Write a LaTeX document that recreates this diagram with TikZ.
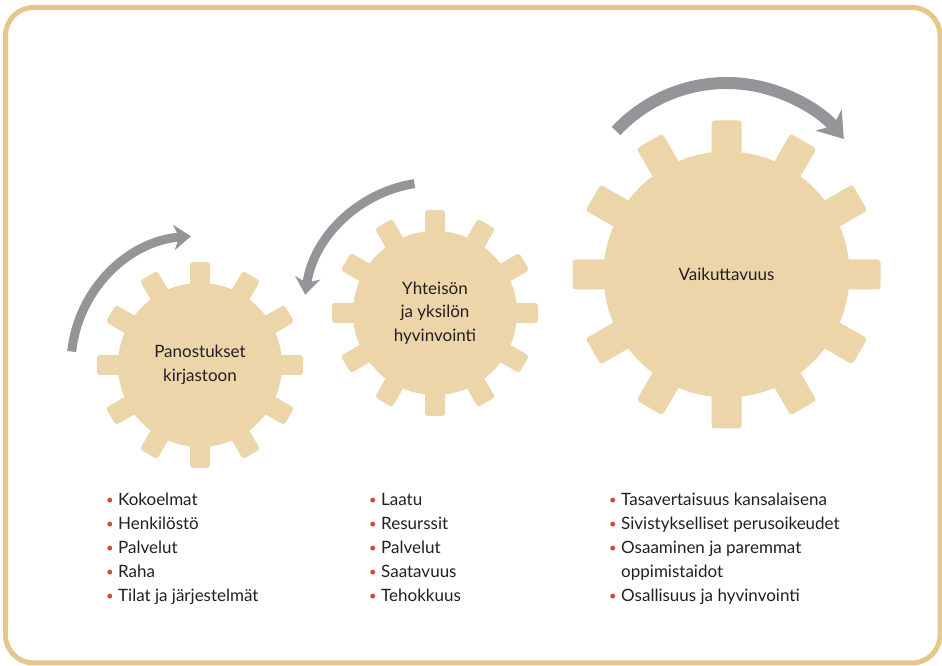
\documentclass[tikz,border=0pt]{standalone}
\usepackage{fontspec}
\setmainfont{Lato}
\usetikzlibrary{arrows.meta,backgrounds}
\definecolor{gearfill}{HTML}{EDD5AA}
\definecolor{framegold}{HTML}{E6C68A}
\definecolor{arrowgray}{HTML}{939598}
\definecolor{textdark}{HTML}{231F20}
\definecolor{bulred}{HTML}{D1463A}
\newcommand\redbul{\makebox[12pt][l]{\raisebox{1pt}{\color{bulred}\fontsize{13}{13}\selectfont\textbullet}}}
\def\gear(#1)(#2:#3:#4)% Syntax: (centre) (tip radius:body radius:tooth width)
    { \fill[gearbody] (#1) circle (#3);
      \foreach \t in {0,30,...,330}
        \fill[gearbody,rounded corners=3pt,shift={(#1)},rotate=\t] (#3-6,-#4/2) rectangle (#2,#4/2); }

\begin{document}
\begin{tikzpicture}[x=1pt,y=1pt,
    gearbody/.style={fill=gearfill},
    gearlabel/.style={align=center,text=textdark,font=\fontsize{17}{23.5}\selectfont},
    bullist/.style={anchor=base west,inner sep=0pt,text=textdark,font=\fontsize{17}{24}\selectfont},
    turn/.style={draw=arrowgray,line width=9pt,-{Stealth[length=17pt,width=25pt,inset=5pt]}},
    bigturn/.style={turn,line width=12pt,-{Stealth[length=24pt,width=33pt,inset=7pt]}}]
   \useasboundingbox (0,0) rectangle (942,666);
   \draw[framegold,line width=5pt,rounded corners=28pt] (5.5,3) rectangle (940,658.5);

   % gear labels
   \node[gearlabel] (panost) at (200,301) {Panostukset\\kirjastoon};
   \node[gearlabel] (yhteis) at (435,353) {Yhteisön\\ja yksilön\\hyvinvointi};
   \node[gearlabel] (vaikut) at (726.5,391.5) {Vaikuttavuus};
   \coordinate (vaikturn) at ([yshift=40.5pt]vaikut.center);

   \begin{scope}[on background layer]
     \gear(panost.center)(103:82:20)
     \gear(yhteis.center)(103:82:20)
     \gear(vaikut.center)(154:123:30)
   \end{scope}

   % turning arrows
   \draw[turn] ([shift={(174:129)}]panost.center) arc[start angle=174,end angle=94,radius=129];
   \draw[turn] ([shift={(99:131)}]yhteis.center) arc[start angle=99,end angle=172,radius=131];
   \draw[bigturn] ([shift={(137:151)}]vaikturn) arc[start angle=137,end angle=39,radius=151];

   % lists
   \node[bullist] (panlist) at (106,160) {\begin{tabular}[t]{@{}l@{}}
     \redbul Kokoelmat\\ \redbul Henkilöstö\\ \redbul Palvelut\\ \redbul Raha\\ \redbul Tilat ja järjestelmät
   \end{tabular}};
   \node[bullist] (yhtlist) at (369,160) {\begin{tabular}[t]{@{}l@{}}
     \redbul Laatu\\ \redbul Resurssit\\ \redbul Palvelut\\ \redbul Saatavuus\\ \redbul Tehokkuus
   \end{tabular}};
   \node[bullist] (vaiklist) at (609,160) {\begin{tabular}[t]{@{}l@{}}
     \redbul Tasavertaisuus kansalaisena\\ \redbul Sivistykselliset perusoikeudet\\
     \redbul Osaaminen ja paremmat\\ \hspace{12pt}oppimistaidot\\ \redbul Osallisuus ja hyvinvointi
   \end{tabular}};
\end{tikzpicture}
\end{document}
